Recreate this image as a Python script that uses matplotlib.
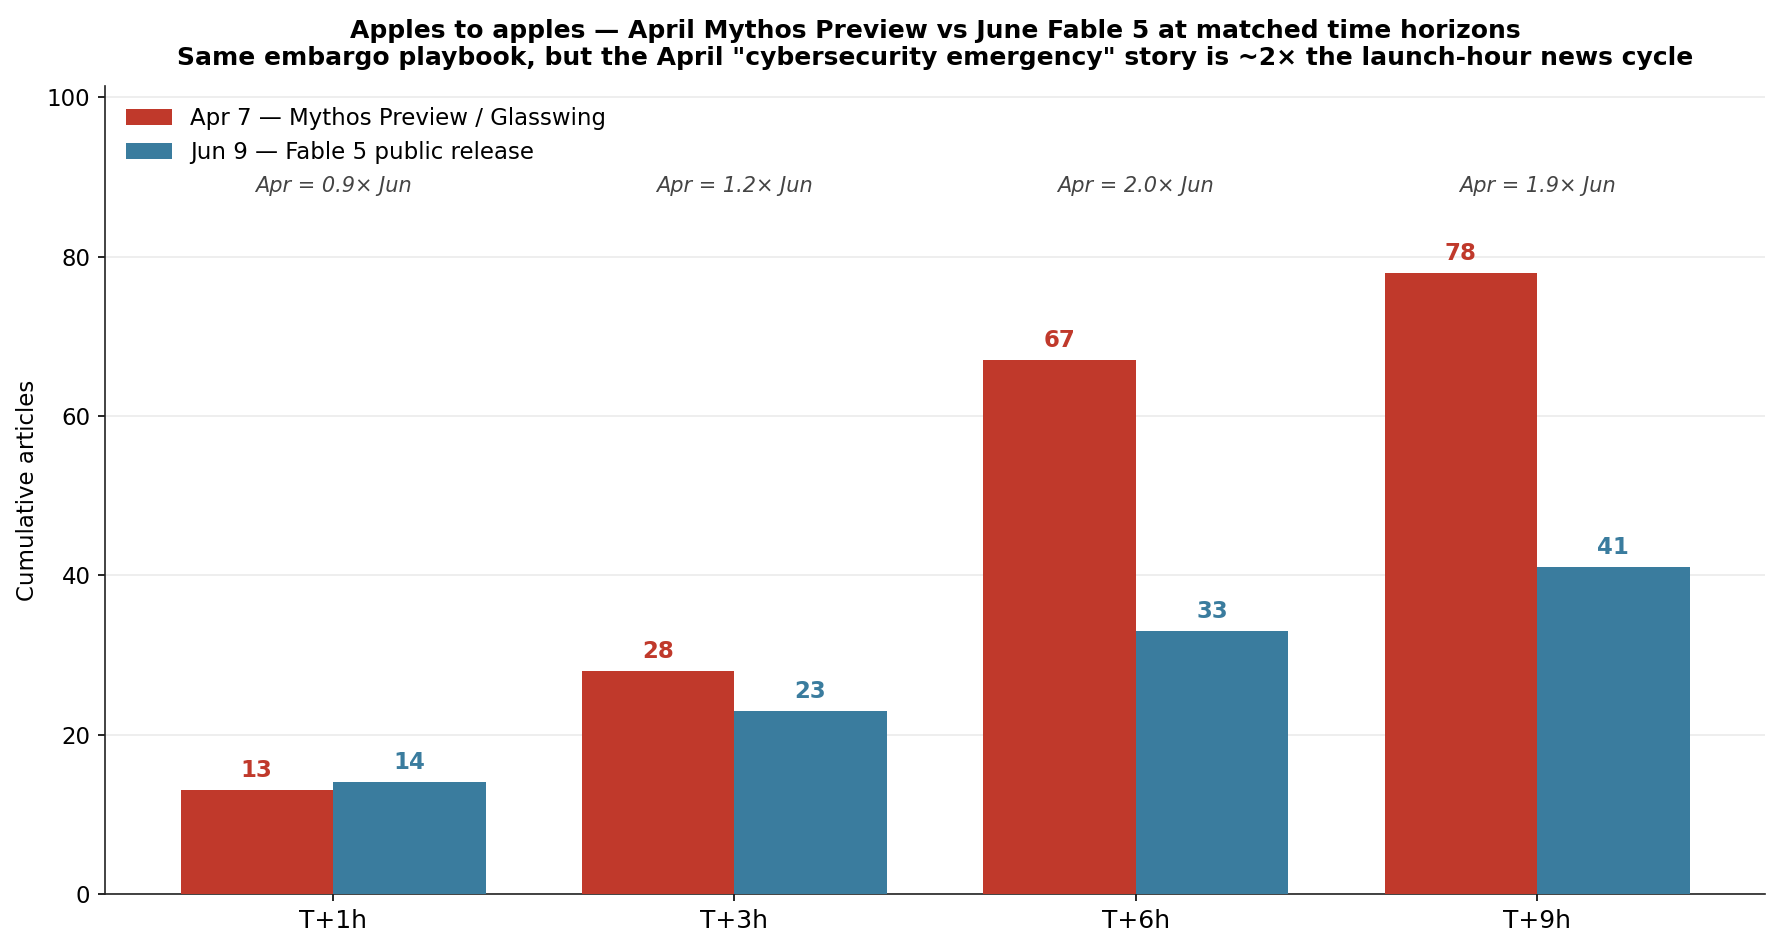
import numpy as np
import matplotlib
matplotlib.use("Agg")
import matplotlib.pyplot as plt

categories = ["T+1h", "T+3h", "T+6h", "T+9h"]
apr_values = [13, 28, 67, 78]
jun_values = [14, 23, 33, 41]
apr_label = "Apr 7 — Mythos Preview / Glasswing"
jun_label = "Jun 9 — Fable 5 public release"
ratio_labels = ["Apr = 0.9× Jun", "Apr = 1.2× Jun", "Apr = 2.0× Jun", "Apr = 1.9× Jun"]

RED = "#c0392b"
BLUE = "#3a7c9e"

plt.rcParams['font.family'] = ['DejaVu Sans']
fig = plt.figure(figsize=(1781/150, 947/150), dpi=150)
ax = fig.add_axes([0.059, 0.056, 0.932, 0.853])

x = np.arange(len(categories))
w = 0.38
ax.bar(x - w/2, apr_values, w, color=RED, label=apr_label, zorder=3)
ax.bar(x + w/2, jun_values, w, color=BLUE, label=jun_label, zorder=3)

top = max(apr_values) * 1.3
ax.set_ylim(0, top)

for xi, v in zip(x - w/2, apr_values):
    ax.text(xi, v + 1, str(v), ha='center', va='bottom', color=RED,
            fontsize=11, fontweight='bold', zorder=4)
for xi, v in zip(x + w/2, jun_values):
    ax.text(xi, v + 1, str(v), ha='center', va='bottom', color=BLUE,
            fontsize=11, fontweight='bold', zorder=4)
for xi, t in zip(x, ratio_labels):
    ax.text(xi, top * 0.876, t, ha='center', va='center', color='#444444',
            fontsize=10, fontstyle='italic')

ax.set_xticks(x)
ax.set_xticklabels(categories, fontsize=12)
ax.tick_params(axis='y', labelsize=11)
ax.set_yticks([0, 20, 40, 60, 80, 100])
ax.set_ylabel("Cumulative articles", fontsize=11)
ax.yaxis.grid(True, color='#ebebeb', linewidth=0.8, zorder=0)
ax.set_axisbelow(True)
for s in ['top', 'right']:
    ax.spines[s].set_visible(False)
for s in ['left', 'bottom']:
    ax.spines[s].set_color('#222222')
ax.set_title("Apples to apples — April Mythos Preview vs June Fable 5 at matched time horizons\n"
             "Same embargo playbook, but the April \"cybersecurity emergency\" story is ~2× the launch-hour news cycle",
             fontsize=12, fontweight='bold', pad=10)
ax.legend(loc='upper left', frameon=False, fontsize=11)

fig.savefig("out.png", dpi=150)
